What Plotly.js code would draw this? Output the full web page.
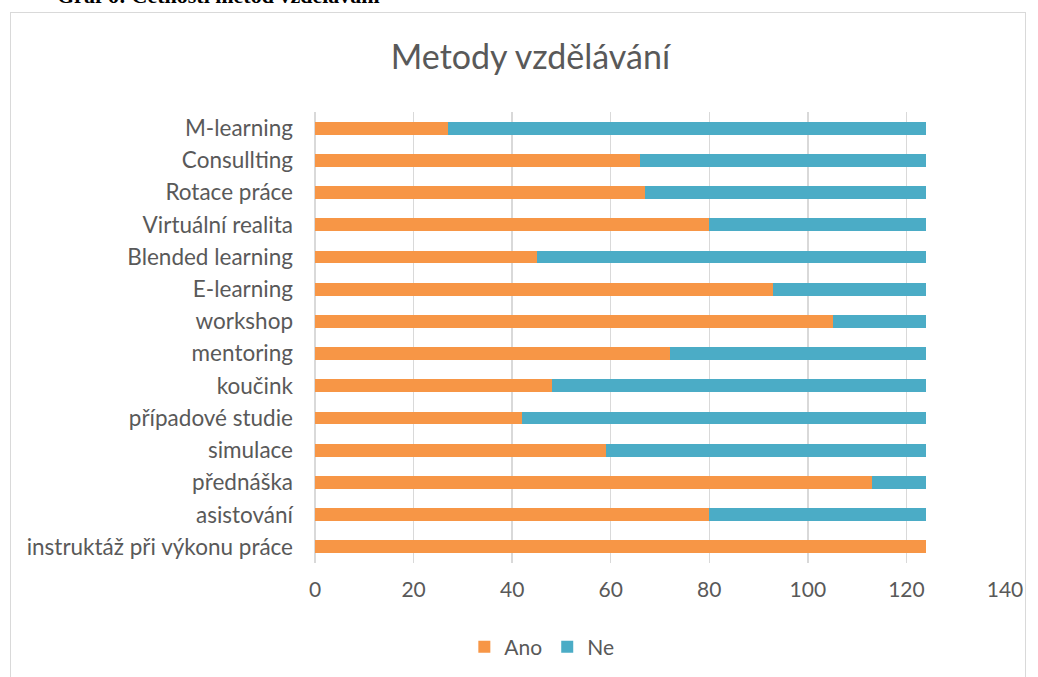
<!DOCTYPE html>
<html><head><meta charset="utf-8">
<script src="https://cdn.plot.ly/plotly-3.0.1.min.js"></script>
<style>
body{margin:0;padding:0;background:#fff;width:1038px;height:677px;overflow:hidden;position:relative}
#frame{position:absolute;left:10px;top:12px;width:1016px;height:720px;border:1px solid #d9d9d9;box-sizing:border-box;pointer-events:none}
#cap{position:absolute;left:57px;top:-15px;line-height:22px;font-family:"Liberation Serif",serif;font-weight:bold;font-size:22px;color:#000;white-space:nowrap}
#plot{position:absolute;left:0;top:0;width:1038px;height:677px}
</style></head>
<body>
<div id="cap">Graf 6: Četnosti metod vzdělávání</div>
<div id="plot"></div>
<div id="frame"></div>
<script>
const categories = ["instruktáž při výkonu práce","asistování","přednáška","simulace","případové studie","koučink","mentoring","workshop","E-learning","Blended learning","Virtuální realita","Rotace práce","Consullting","M-learning"];
const ano = [124,80,113,59,42,48,72,105,93,45,80,67,66,27];
const ne  = [0,44,11,65,82,76,52,19,31,79,44,57,58,97];
const xTicks = [0,20,40,60,80,100,120,140];

const font = "Lato, 'Open Sans', sans-serif";
const data = [
 {type:'bar',orientation:'h',name:'Ano',y:categories,x:ano,marker:{color:'#F79646'}},
 {type:'bar',orientation:'h',name:'Ne',y:categories,x:ne,marker:{color:'#4BACC6'}}
];
const layout = {
 width:1038,height:677,barmode:'stack',bargap:0.6,
 paper_bgcolor:'rgba(0,0,0,0)',plot_bgcolor:'#fff',
 margin:{l:315,r:33,t:112,b:114},
 font:{family:font,color:'#595959',size:20},
 title:{text:'Metody vzdělávání',font:{family:font,size:34,color:'#595959'},xref:'container',x:0.511,xanchor:'center',yref:'container',y:1-57/677,yanchor:'middle'},
 xaxis:{range:[0,140],tickvals:xTicks,ticktext:xTicks.map(String),showgrid:true,gridcolor:'#d9d9d9',gridwidth:1.5,zeroline:true,zerolinecolor:'#d9d9d9',zerolinewidth:1.5,showline:false,ticks:'',ticklabelstandoff:12,tickfont:{size:21,color:'#595959'},fixedrange:true},
 yaxis:{type:'category',categoryorder:'array',categoryarray:categories,showgrid:false,zeroline:false,showline:false,ticks:'',ticklabelstandoff:21,tickfont:{size:22.5,color:'#595959'},fixedrange:true},
 legend:{orientation:'h',xref:'container',yref:'container',x:0.522,xanchor:'center',y:1-647/677,yanchor:'middle',font:{size:21,color:'#595959'},traceorder:'normal',itemwidth:30},
 showlegend:true
};
Plotly.newPlot('plot',data,layout,{displayModeBar:false,staticPlot:true});
</script>
</body></html>
